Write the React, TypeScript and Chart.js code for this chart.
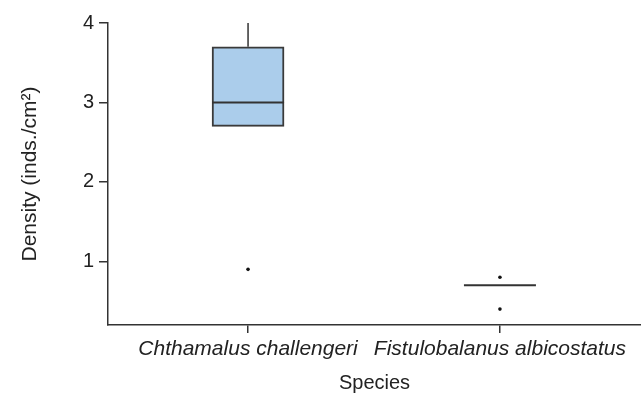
import React, { useEffect, useRef } from "react";
import { Chart, registerables } from "chart.js";

Chart.register(...registerables);

const species = ["Chthamalus challengeri", "Fistulobalanus albicostatus"];
const positions = [1, 2];
const q1 = [2.7, 0.7];
const median = [3.0, 0.7];
const q3 = [3.7, 0.7];
const whiskerLow = [2.7, 0.7];
const whiskerHigh = [4.0, 0.7];
const outlierX = [1, 2, 2];
const outlierY = [0.9, 0.8, 0.4];
const yTicks = [1, 2, 3, 4];

const FONT = "'Liberation Sans', Arial, Helvetica, sans-serif";
const LINE = "#333333";
const TEXT = "#222222";

const boxLinesPlugin = {
  id: "boxLines",
  afterDatasetsDraw(chart: any) {
    const meta = chart.getDatasetMeta(0);
    const ys = chart.scales.y;
    const ctx = chart.ctx;
    ctx.save();
    meta.data.forEach((bar: any, i: number) => {
      const { x, width } = bar.getProps(["x", "width"], true);
      const half = width / 2;
      ctx.strokeStyle = LINE;
      ctx.lineWidth = 1.5;
      if (whiskerHigh[i] > q3[i]) {
        ctx.beginPath();
        ctx.moveTo(x, ys.getPixelForValue(q3[i]));
        ctx.lineTo(x, ys.getPixelForValue(whiskerHigh[i]));
        ctx.stroke();
      }
      if (whiskerLow[i] < q1[i]) {
        ctx.beginPath();
        ctx.moveTo(x, ys.getPixelForValue(q1[i]));
        ctx.lineTo(x, ys.getPixelForValue(whiskerLow[i]));
        ctx.stroke();
      }
      ctx.lineWidth = 2;
      const my = ys.getPixelForValue(median[i]);
      ctx.beginPath();
      ctx.moveTo(x - half, my);
      ctx.lineTo(x + half, my);
      ctx.stroke();
    });
    ctx.restore();
  },
};

export default function App() {
  const ref = useRef<HTMLCanvasElement | null>(null);

  useEffect(() => {
    document.body.style.margin = "0";
    const canvas = ref.current;
    if (!canvas) return;
    const chart = new Chart(canvas, {
      type: "bar",
      data: {
        datasets: [
          {
            type: "bar",
            data: positions.map((p, i) => ({ x: p, y: [q1[i], q3[i]] })) as any,
            backgroundColor: "#abcdeb",
            borderColor: "#3a3a3a",
            borderWidth: 2,
            borderSkipped: false,
            barThickness: 72,
          } as any,
          {
            type: "scatter",
            data: outlierX.map((x, i) => ({ x, y: outlierY[i] })),
            pointRadius: 1.8,
            pointBackgroundColor: "#111111",
            pointBorderWidth: 0,
            showLine: false,
          } as any,
        ],
      },
      options: {
        responsive: false,
        animation: false,
        devicePixelRatio: 1,
        layout: { autoPadding: false, padding: { top: 23, right: 0, left: 0, bottom: 0 } },
        plugins: {
          legend: { display: false },
          tooltip: { enabled: false },
        },
        scales: {
          x: {
            type: "linear",
            offset: false,
            min: 0.444,
            max: 2.56,
            afterBuildTicks: (s: any) => {
              s.ticks = positions.map((v) => ({ value: v }));
            },
            afterFit: (s: any) => {
              s.height = 68;
            },
            ticks: {
              autoSkip: false,
              maxRotation: 0,
              padding: 4,
              color: TEXT,
              font: { family: FONT, size: 21, style: "italic" },
              callback: (v: any) => {
                const idx = positions.indexOf(Number(v));
                return idx >= 0 ? species[idx] : "";
              },
            },
            grid: {
              display: true,
              offset: false,
              drawOnChartArea: false,
              drawTicks: true,
              tickLength: 8,
              color: LINE,
              lineWidth: 1.5,
            },
            border: { display: true, color: LINE, width: 1.5 },
            title: {
              display: true,
              text: "Species",
              color: TEXT,
              font: { family: FONT, size: 20, lineHeight: 1 },
              padding: 0,
            },
          },
          y: {
            type: "linear",
            min: 0.2,
            max: 4,
            afterBuildTicks: (s: any) => {
              s.ticks = yTicks.map((v) => ({ value: v }));
            },
            afterFit: (s: any) => {
              s.width = 108;
            },
            ticks: {
              padding: 5,
              color: TEXT,
              font: { family: FONT, size: 20 },
            },
            grid: {
              display: true,
              drawOnChartArea: false,
              drawTicks: true,
              tickLength: 9,
              color: LINE,
              lineWidth: 1.5,
            },
            border: { display: true, color: LINE, width: 1.5 },
            title: {
              display: true,
              text: "Density (inds./cm²)",
              color: TEXT,
              font: { family: FONT, size: 21, lineHeight: 1.2 },
              padding: { top: 18, bottom: 0 },
            },
          },
        },
      } as any,
      plugins: [boxLinesPlugin],
    });
    return () => chart.destroy();
  }, []);

  return (
    <div style={{ position: "fixed", left: 0, top: 0, width: 641, height: 393 }}>
      <canvas ref={ref} width={641} height={393} />
    </div>
  );
}
